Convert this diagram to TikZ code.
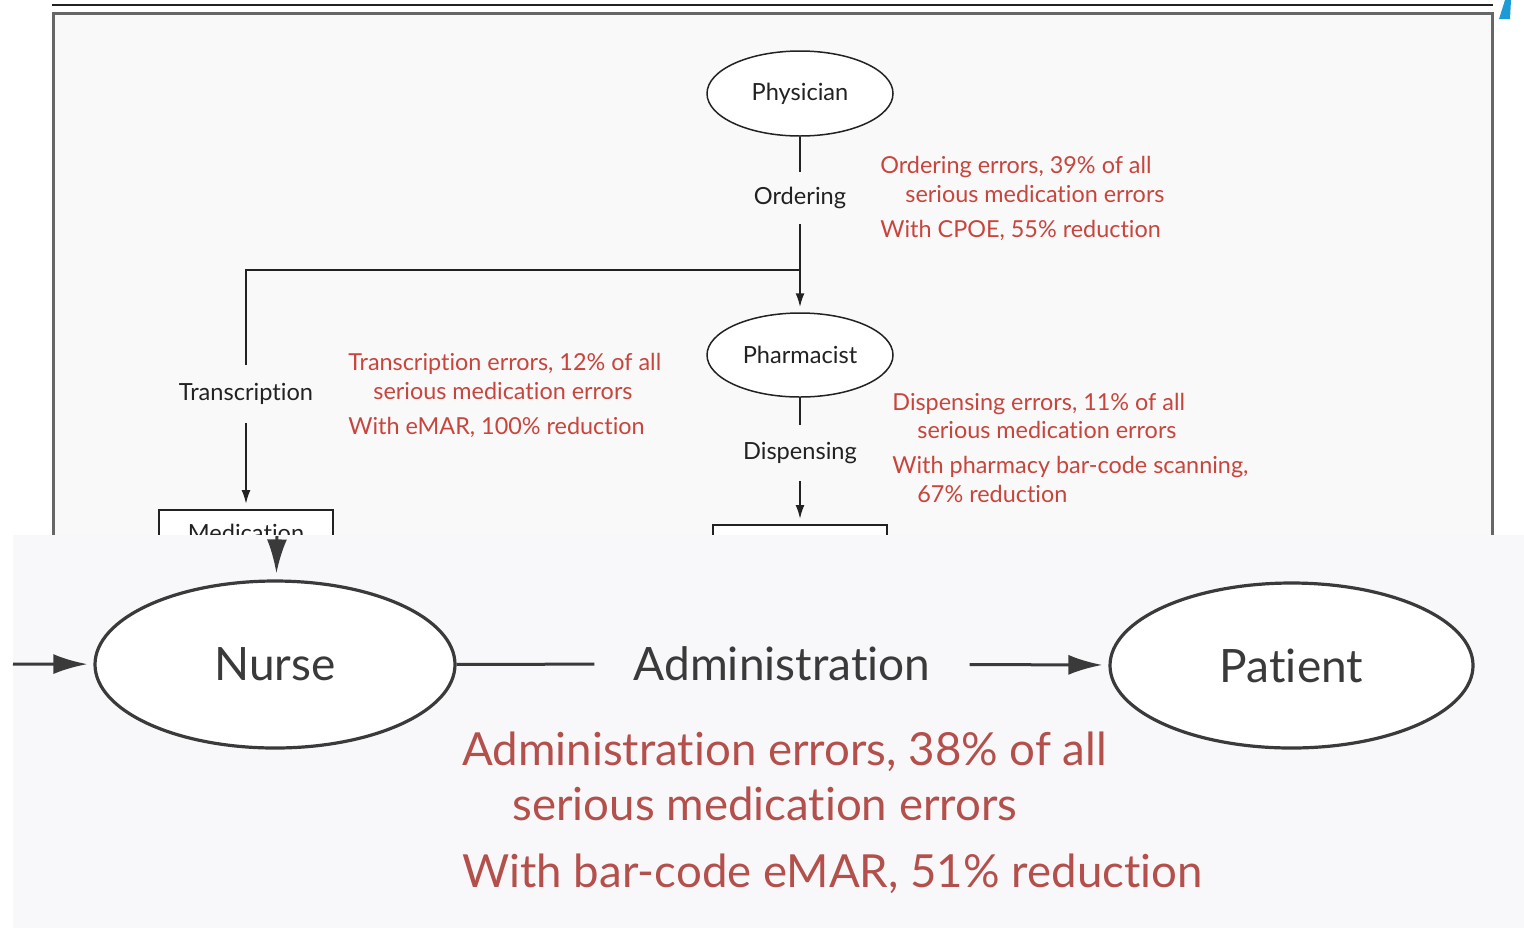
\documentclass[tikz,border=0pt]{standalone}
\usepackage{fontspec}
\setmainfont[Ligatures=NoCommon]{Lato}
\usepackage{tikz}
\usetikzlibrary{arrows.meta,shapes.geometric,positioning}
\definecolor{ink}{HTML}{222222}
\definecolor{inkb}{HTML}{3A3A3A}
\definecolor{errred}{HTML}{C8453D}
\definecolor{errblur}{HTML}{B4504C}
\definecolor{sheet}{HTML}{F9F9F9}
\definecolor{panel}{HTML}{F8F8FA}
\definecolor{framegray}{HTML}{666666}
\definecolor{tipblue}{HTML}{1E9BD7}

\begin{document}
\begin{tikzpicture}[x=0.5pt,y=-0.5pt,
  actor/.style={ellipse,draw=ink,fill=white,line width=0.75pt,inner sep=0pt,
    minimum width=93pt,minimum height=42.5pt,text=ink,font=\fontsize{11.8}{13}\selectfont},
  stage/.style={inner sep=0pt,text=ink,font=\fontsize{11.8}{13}\selectfont},
  note/.style={anchor=base west,inner sep=0pt,text=errred,font=\fontsize{11.7}{13}\selectfont},
  flow/.style={ink,line width=1pt},
  tip/.style={-{Latex[length=7pt,width=4.5pt]},shorten >=2.5pt},
  slot/.style={draw=ink,fill=white,line width=1pt,anchor=north,inner sep=0pt,
    minimum width=87pt,minimum height=23pt,text=ink,font=\fontsize{11.8}{13}\selectfont},
  bigactor/.style={ellipse,draw=inkb,fill=white,line width=1.6pt,inner sep=0pt,
    minimum width=180pt,minimum height=83pt,text=inkb,font=\fontsize{23}{26}\selectfont},
  bignote/.style={anchor=base west,inner sep=0pt,text=errblur,font=\fontsize{22.8}{26}\selectfont},
  bigflow/.style={inkb,line width=1.5pt},
  bigtip/.style={-{Latex[length=17pt,width=10pt]},shorten >=3pt}]
  \useasboundingbox (0,0) rectangle (1524,928);
  \fill[white] (0,0) rectangle (1524,928);
  \fill[sheet] (53,13) rectangle (1492,560);
  \draw[framegray,line width=1.5pt] (53,560) -- (53,13) -- (1492,13) -- (1492,560);
  \draw[ink,line width=1pt] (52,5) -- (1493,5);
  \fill[tipblue] (1505,0) -- (1511,0) -- (1510,19) -- (1499,19) -- cycle;

  \node[actor] (phys) at (800,93.5) {Physician};
  \node[stage,minimum height=26pt] (order) at (800,198) {Ordering};
  \coordinate (fork) at (800,270);
  \node[actor,minimum height=42pt] (pharm) at (800,355) {Pharmacist};
  \node[stage,minimum height=29pt] (trans) at (246,394) {Transcription};
  \node[stage,minimum height=28pt] (disp) at (800,453) {Dispensing};
  \node[slot] (medbox) at (246,509) {Medication};
  \node[slot] (fillbox) at (800,524) {};

  \draw[flow] (phys) -- (order);
  \draw[flow] (order) -- (fork);
  \draw[flow,tip] (fork) -- (pharm);
  \draw[flow] (fork) -| (trans);
  \draw[flow,tip] (trans) -- (medbox);
  \draw[flow] (pharm) -- (disp);
  \draw[flow,tip] (disp) -- (fillbox);

  \node[note] at (880,173) {Ordering errors, 39\% of all};
  \node[note] at (905,202) {serious medication errors};
  \node[note] at (880,237) {With CPOE, 55\% reduction};
  \node[note] at (348,370) {Transcription errors, 12\% of all};
  \node[note] at (373,399) {serious medication errors};
  \node[note] at (348,434) {With eMAR, 100\% reduction};
  \node[note] at (892,410) {Dispensing errors, 11\% of all};
  \node[note] at (917,438) {serious medication errors};
  \node[note] at (892,473) {With pharmacy bar-code scanning,};
  \node[note] at (917,502) {67\% reduction};

  \fill[panel] (13,535) rectangle (1524,928);
  \node[bigactor,minimum width=180pt,minimum height=83.5pt] (nurse) at (275,664.5) {Nurse};
  \node[bigactor,minimum width=181.5pt,minimum height=82.5pt] (pat) at (1291.5,665.5) {Patient};
  \node[stage,text=inkb,inner xsep=19.5pt,font=\fontsize{23}{26}\selectfont] (admin) at (782,664) {Administration};
  \coordinate (inleft) at (13,664);
  \coordinate (intop) at (277,536);
  \draw[bigflow,bigtip] (inleft) -- (nurse);
  \draw[bigflow,bigtip] (intop) -- (nurse);
  \draw[bigflow] (nurse) -- (admin);
  \draw[bigflow,bigtip] (admin) -- (pat);

  \node[bignote] at (462,765) {Administration errors, 38\% of all};
  \node[bignote] at (512,820) {serious medication errors};
  \node[bignote] at (462,887) {With bar-code eMAR, 51\% reduction};
\end{tikzpicture}
\end{document}
